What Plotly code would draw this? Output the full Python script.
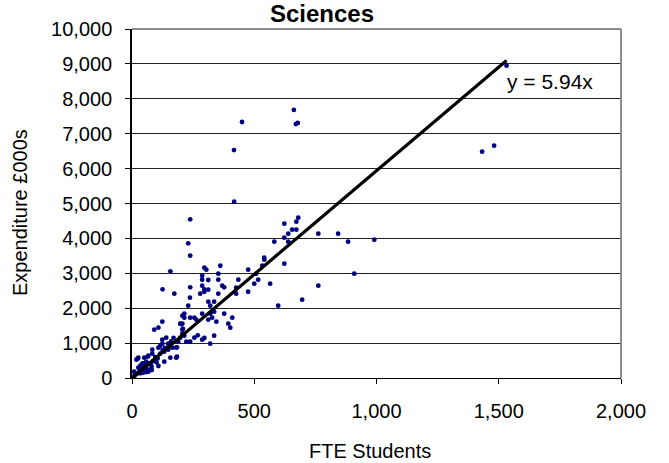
import plotly.graph_objects as go

# FTE students (x) and expenditure £000s (y)
fte_students = [
    450, 662, 670, 678, 417, 418, 238, 230, 238, 157, 125, 173, 238, 237, 230,
    296, 304, 287, 287, 312, 361, 353, 353, 369, 377, 353, 287, 296, 279, 312,
    296, 312, 336, 320, 336, 320, 287, 312, 345, 377, 394, 402, 410, 435, 426,
    426, 475, 475, 500, 516, 508, 533, 541, 541, 565, 582, 598, 623, 623, 623,
    639, 639, 655, 672, 680, 672, 696, 762, 762, 843, 884, 909, 991, 1432, 1481,
    1532,
    206, 214, 197, 206, 214, 238, 255, 263, 328, 320, 336, 287, 255, 238, 222,
    214, 206, 206, 197, 189, 181, 181, 157, 132, 124, 108, 91, 140, 124, 124,
    116, 108, 148, 148, 132, 165, 83, 83, 67, 50, 26, 18, 58, 42, 34,
    75, 75, 67, 58, 26, 9, 0,
    269, 296, 97, 108, 81, 58, 34, 45, 64, 23, 184, 184, 200, 208,
    10, 20, 30, 40, 50, 60, 70, 85, 95, 105, 115, 125, 135, 150, 160,
    170, 100, 80, 55, 45,
]
expenditure = [
    7335, 7680, 7277, 7310, 6532, 5051, 4546, 3859, 3505, 3057, 2541, 2415, 2598, 2301, 2071,
    3160, 3103, 2931, 2816, 2808, 3217, 2988, 2816, 2644, 2598, 2415, 2644, 2541, 2415, 2530,
    2472, 2186, 2186, 2071, 1899, 1842, 1842, 1670, 1613, 1842, 1556, 1441, 1728, 2816, 2587,
    2415, 3103, 2472, 2702, 2816, 2988, 3217, 3447, 3390, 2702, 3905, 2071, 3275, 4020, 4421,
    4134, 3905, 4249, 4478, 4593, 4249, 2243, 4134, 2644, 4134, 3905, 2988, 3962, 6484, 6656,
    8948,
    1785, 1842, 1556, 1556, 1728, 1728, 1728, 1670, 1728, 983, 1212, 1097, 1155, 1040, 1040,
    1212, 1384, 1270, 1155, 1040, 868, 582, 582, 467, 1613, 1441, 1384, 1155, 1097, 983,
    925, 868, 983, 811, 754, 868, 811, 696, 639, 582, 582, 524, 467, 410, 352,
    410, 238, 181, 295, 295, 181, 0,
    1223, 1146, 516, 344, 229, 172, 134, 421, 611, 553, 880, 611, 1547, 1413,
    60, 120, 180, 300, 350, 250, 420, 480, 600, 560, 700, 800, 860, 950, 1050,
    1150, 450, 330, 230, 150,
]

trend_slope = 5.94
x_ticks = [0, 500, 1000, 1500, 2000]
y_ticks = [0, 1000, 2000, 3000, 4000, 5000, 6000, 7000, 8000, 9000, 10000]

trend_x = [0, max(fte_students)]
trend_y = [trend_slope * v for v in trend_x]

FONT = "Liberation Sans, Arial, sans-serif"

fig = go.Figure()
fig.add_trace(go.Scatter(
    x=fte_students, y=expenditure, mode="markers",
    marker=dict(color="#000080", size=4.8, line=dict(width=0)),
    showlegend=False, hoverinfo="x+y",
))
fig.add_trace(go.Scatter(
    x=trend_x, y=trend_y, mode="lines",
    line=dict(color="black", width=3.2),
    showlegend=False, hoverinfo="skip",
))

fig.update_layout(
    width=669, height=463,
    margin=dict(l=132, r=48, t=29, b=85),
    paper_bgcolor="white", plot_bgcolor="white",
    font=dict(family=FONT, size=20, color="black"),
    title=dict(text="<b>Sciences</b>", x=322 / 669, xanchor="center",
               xref="container", yref="container", y=1 - 14 / 463, yanchor="middle",
               font=dict(family=FONT, size=24, color="black")),
    xaxis=dict(
        range=[0, 2000], tickvals=x_ticks, tickformat=",d",
        showgrid=False, zeroline=False,
        showline=True, linecolor="black", linewidth=1,
        ticks="outside", ticklen=5, tickcolor="black",
        ticklabelstandoff=10,
        tickfont=dict(family=FONT, size=20),
    ),
    yaxis=dict(
        range=[0, 10000], tickvals=y_ticks, tickformat=",d",
        showgrid=True, gridcolor="#222222", gridwidth=1, zeroline=False,
        showline=True, linecolor="black", linewidth=1.5,
        ticks="outside", ticklen=5, tickcolor="black",
        ticklabelstandoff=9,
        tickfont=dict(family=FONT, size=20),
    ),
    annotations=[
        dict(text="FTE Students", xref="paper", yref="paper",
             x=(370 - 132) / 489, y=(378 - 451) / 349,
             showarrow=False, xanchor="center", yanchor="middle",
             font=dict(family=FONT, size=20)),
        dict(text="Expenditure £000s", xref="paper", yref="paper",
             x=(20 - 132) / 489, y=(378 - 213) / 349, textangle=-90,
             showarrow=False, xanchor="center", yanchor="middle",
             font=dict(family=FONT, size=20)),
        dict(text="y = 5.94x", xref="paper", yref="paper",
             x=(550 - 132) / 489, y=(378 - 81) / 349,
             showarrow=False, xanchor="center", yanchor="middle",
             font=dict(family=FONT, size=21)),
    ],
    shapes=[
        dict(type="line", xref="paper", yref="paper", x0=0, x1=1, y0=1, y1=1,
             line=dict(color="#8c8c8c", width=2), layer="above"),
        dict(type="line", xref="paper", yref="paper", x0=1, x1=1, y0=0, y1=1,
             line=dict(color="#8c8c8c", width=2), layer="above"),
    ],
)

fig.write_html(
    "out.html",
    config={"displayModeBar": False},
    post_script="document.body.style.margin='0';document.body.style.overflow='hidden';",
)
